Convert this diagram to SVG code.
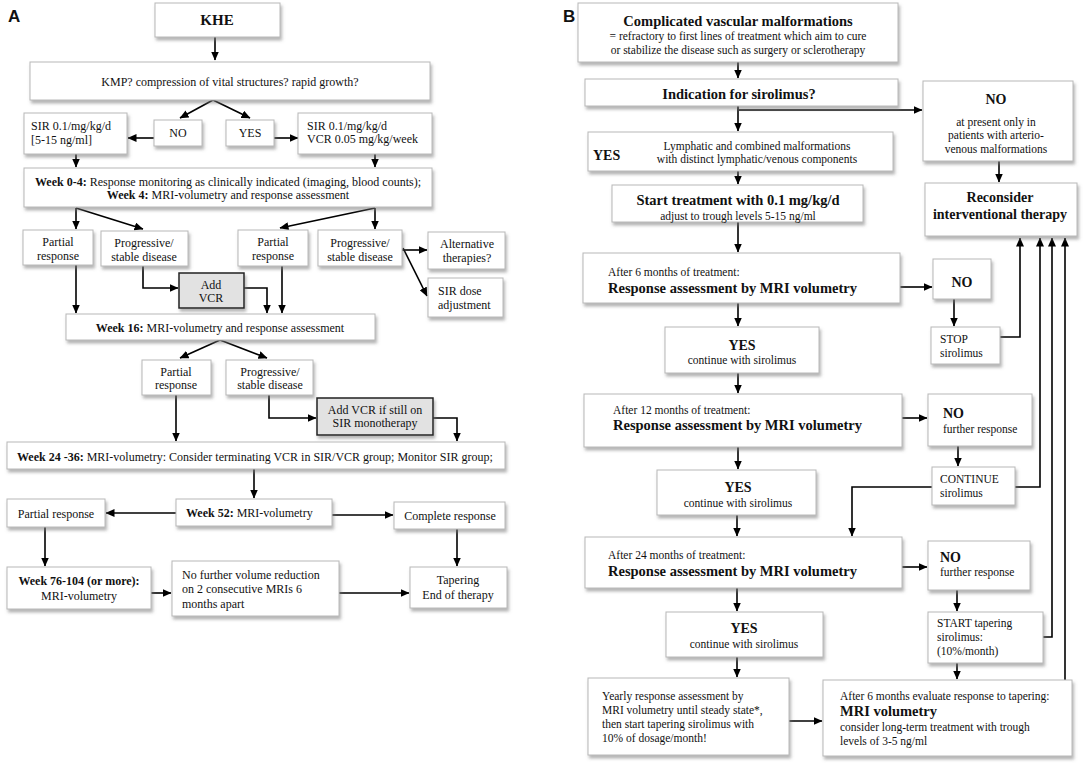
<svg xmlns="http://www.w3.org/2000/svg" width="1084" height="767" viewBox="0 0 1084 767">
<defs>
<filter id="sh" x="-10%" y="-10%" width="125%" height="140%">
<feDropShadow dx="1.5" dy="3" stdDeviation="1.5" flood-color="#777" flood-opacity="0.55"/>
</filter>
<marker id="ah" markerUnits="userSpaceOnUse" markerWidth="9" markerHeight="8" refX="8.5" refY="4" orient="auto">
<path d="M0,0 L9,4 L0,8 Z" fill="#000"/>
</marker>
</defs>
<style>
.b{fill:#fff;stroke:#b8b8b8;stroke-width:1;filter:url(#sh)}
.g{fill:#e2e2e2;stroke:#222;stroke-width:1.5;filter:url(#sh)}
text{font-family:"Liberation Serif","Times New Roman",serif;fill:#111}
.l{font-size:12px}
.r{font-size:11.5px}
.c{text-anchor:middle}
.bd{font-weight:bold}
.h{font-size:14.5px;font-weight:bold}
.pl{font-family:"Liberation Sans",Arial,sans-serif;font-size:17px;font-weight:bold}
.cn{fill:none;stroke:#000;stroke-width:1.6}
.a{marker-end:url(#ah)}
</style>
<rect width="1084" height="767" fill="#fff"/>
<text class="pl" x="8" y="22">A</text>
<text class="pl" x="563" y="22">B</text>

<g id="connectors">
<!-- Panel A -->
<path class="cn a" d="M215,37 V60"/>
<path class="cn a" d="M213,100 L180,118"/>
<path class="cn a" d="M213,100 L250,118"/>
<path class="cn a" d="M154,138 H128"/>
<path class="cn a" d="M274,138 H298"/>
<path class="cn a" d="M76,154 V167"/>
<path class="cn a" d="M375,154 V167"/>
<path class="cn a" d="M76,208 V229"/>
<path class="cn a" d="M76,208 L143,229"/>
<path class="cn a" d="M375,208 L280,228"/>
<path class="cn a" d="M375,208 V229"/>
<path class="cn a" d="M143,266 V288 H178"/>
<path class="cn a" d="M244,288 H267 V313"/>
<path class="cn a" d="M76,265 V313"/>
<path class="cn a" d="M282,266 V313"/>
<path class="cn a" d="M402,250 H427"/>
<path class="cn a" d="M403,248 L427,296"/>
<path class="cn a" d="M220,340 L180,358"/>
<path class="cn a" d="M220,340 L267,358"/>
<path class="cn a" d="M176,395 V441"/>
<path class="cn a" d="M269,395 V418 H316"/>
<path class="cn a" d="M433,418 H457 V441"/>
<path class="cn a" d="M254,469 V498"/>
<path class="cn a" d="M176,513 H106"/>
<path class="cn a" d="M332,515 H393"/>
<path class="cn a" d="M457,529 V566"/>
<path class="cn a" d="M45,527 V566"/>
<path class="cn a" d="M151,593 H171"/>
<path class="cn a" d="M339,593 H409"/>
<!-- Panel B -->
<path class="cn a" d="M738,62 V78"/>
<path class="cn a" d="M738,106 V131"/>
<path class="cn a" d="M739,110 H922"/>
<path class="cn a" d="M999,161 V182"/>
<path class="cn a" d="M738,171 V184"/>
<path class="cn a" d="M738,222 V252"/>
<path class="cn a" d="M900,287 H932"/>
<path class="cn a" d="M954,299 V326"/>
<path class="cn a" d="M1000,337 H1020 V238"/>
<path class="cn a" d="M738,303 V326"/>
<path class="cn a" d="M738,373 V393"/>
<path class="cn a" d="M902,418 H927"/>
<path class="cn a" d="M958,446 V466"/>
<path class="cn a" d="M1015,487 H1040 V238"/>
<path class="cn a" d="M932,487 H852 V536"/>
<path class="cn a" d="M738,447 V469"/>
<path class="cn a" d="M737,515 V536"/>
<path class="cn a" d="M902,567 H927"/>
<path class="cn a" d="M957,590 V611"/>
<path class="cn a" d="M1043,637 H1052 V238"/>
<path class="cn a" d="M1065,680 V238"/>
<path class="cn a" d="M737,588 V611"/>
<path class="cn a" d="M737,657 V677"/>
<path class="cn a" d="M789,721 H822"/>
<path class="cn a" d="M957,663 V679"/>
</g>

<!-- Panel A nodes -->
<g id="khe"><rect class="b" x="155" y="3" width="125" height="34"/><text class="c bd" x="217" y="25" font-size="15">KHE</text></g>
<g id="kmp"><rect class="b" x="30" y="62" width="400" height="38"/><text class="l c" x="230" y="86">KMP? compression of vital structures? rapid growth?</text></g>
<g id="noA"><rect class="b" x="154" y="120" width="48" height="26"/><text class="l c" x="178" y="137">NO</text></g>
<g id="yesA"><rect class="b" x="226" y="120" width="48" height="26"/><text class="l c" x="250" y="137">YES</text></g>
<g id="sirL"><rect class="b" x="24" y="113" width="103" height="41"/><text class="l" x="31" y="130">SIR 0.1/mg/kg/d</text><text class="l" x="31" y="144">[5-15 ng/ml]</text></g>
<g id="sirR"><rect class="b" x="298" y="113" width="134" height="41"/><text class="l" x="307" y="130">SIR 0.1/mg/kg/d</text><text class="l" x="307" y="143">VCR 0.05 mg/kg/week</text></g>
<g id="week04"><rect class="b" x="24" y="168" width="408" height="39"/>
<text class="l c" x="228" y="186"><tspan class="bd">Week 0-4:</tspan> Response monitoring as clinically indicated (imaging, blood counts);</text>
<text class="l c" x="228" y="199"><tspan class="bd">Week 4:</tspan> MRI-volumetry and response assessment</text></g>
<g id="pr1"><rect class="b" x="23" y="230" width="70" height="35"/><text class="l c" x="58" y="246">Partial</text><text class="l c" x="58" y="260">response</text></g>
<g id="pd1"><rect class="b" x="101" y="231" width="87" height="35"/><text class="l c" x="144" y="247">Progressive/</text><text class="l c" x="144" y="261">stable disease</text></g>
<g id="addvcr1"><rect class="g" x="179" y="273" width="65" height="35"/><text class="l c" x="211" y="289">Add</text><text class="l c" x="211" y="302">VCR</text></g>
<g id="pr2"><rect class="b" x="238" y="230" width="70" height="36"/><text class="l c" x="273" y="246">Partial</text><text class="l c" x="273" y="260">response</text></g>
<g id="pd2"><rect class="b" x="318" y="230" width="84" height="36"/><text class="l c" x="360" y="247">Progressive/</text><text class="l c" x="360" y="261">stable disease</text></g>
<g id="alt"><rect class="b" x="428" y="232" width="77" height="37"/><text class="l c" x="467" y="248">Alternative</text><text class="l c" x="467" y="262">therapies?</text></g>
<g id="sirdose"><rect class="b" x="428" y="278" width="75" height="39"/><text class="l" x="438" y="295">SIR dose</text><text class="l" x="438" y="309">adjustment</text></g>
<g id="week16"><rect class="b" x="66" y="314" width="309" height="26"/><text class="l c" x="220" y="332"><tspan class="bd">Week 16:</tspan> MRI-volumetry and response assessment</text></g>
<g id="pr3"><rect class="b" x="142" y="360" width="69" height="35"/><text class="l c" x="176" y="376">Partial</text><text class="l c" x="176" y="389">response</text></g>
<g id="pd3"><rect class="b" x="226" y="360" width="87" height="35"/><text class="l c" x="270" y="376">Progressive/</text><text class="l c" x="270" y="389">stable disease</text></g>
<g id="addvcr2"><rect class="g" x="317" y="398" width="116" height="37"/><text class="l c" x="375" y="414">Add VCR if still on</text><text class="l c" x="375" y="427">SIR monotherapy</text></g>
<g id="week24"><rect class="b" x="7" y="442" width="498" height="27"/><text class="l" x="17" y="461"><tspan class="bd">Week 24 -36:</tspan> MRI-volumetry: Consider terminating VCR in SIR/VCR group; Monitor SIR group;</text></g>
<g id="week52"><rect class="b" x="176" y="499" width="156" height="27"/><text class="l" x="186" y="517"><tspan class="bd">Week 52:</tspan> MRI-volumetry</text></g>
<g id="pr4"><rect class="b" x="7" y="499" width="98" height="28"/><text class="l c" x="56" y="518">Partial response</text></g>
<g id="cr"><rect class="b" x="394" y="502" width="111" height="27"/><text class="l c" x="450" y="520">Complete response</text></g>
<g id="week76"><rect class="b" x="7" y="567" width="144" height="42"/><text class="l c bd" x="79" y="585">Week 76-104 (or more):</text><text class="l c" x="79" y="600">MRI-volumetry</text></g>
<g id="nofurther"><rect class="b" x="172" y="561" width="167" height="55"/><text class="l" x="182" y="579">No further volume reduction</text><text class="l" x="182" y="593">on 2 consecutive MRIs 6</text><text class="l" x="182" y="608">months apart</text></g>
<g id="tapering"><rect class="b" x="410" y="567" width="97" height="41"/><text class="l c" x="458" y="584">Tapering</text><text class="l c" x="458" y="599">End of therapy</text></g>

<!-- Panel B nodes -->
<g id="cvm"><rect class="b" x="578" y="3" width="320" height="59"/><text class="h c" x="738" y="26">Complicated vascular malformations</text><text class="r c" x="738" y="40">= refractory to first lines of treatment which aim to cure</text><text class="r c" x="738" y="54">or stabilize the disease such as surgery or sclerotherapy</text></g>
<g id="indication"><rect class="b" x="585" y="79" width="313" height="27"/><text class="h c" x="739" y="99">Indication for sirolimus?</text></g>
<g id="noTop"><rect class="b" x="923" y="81" width="150" height="80"/><text class="c bd" x="996" y="104" font-size="14">NO</text><text class="r c" x="996" y="126">at present only in</text><text class="r c" x="996" y="139">patients with arterio-</text><text class="r c" x="996" y="153">venous malformations</text></g>
<g id="reconsider"><rect class="b" x="925" y="183" width="152" height="53"/><text class="c bd" x="1000" y="202" font-size="14">Reconsider</text><text class="c bd" x="1000" y="219" font-size="14">interventional therapy</text></g>
<g id="yesLymph"><rect class="b" x="588" y="132" width="305" height="39"/><text class="bd" x="593" y="160" font-size="14">YES</text><text class="r c" x="757" y="150">Lymphatic and combined malformations</text><text class="r c" x="757" y="163">with distinct lymphatic/venous components</text></g>
<g id="start"><rect class="b" x="612" y="185" width="251" height="37"/><text class="h c" x="738" y="205">Start treatment with 0.1 mg/kg/d</text><text class="r c" x="738" y="220">adjust to trough levels 5-15 ng/ml</text></g>
<g id="m6"><rect class="b" x="583" y="253" width="317" height="50"/><text class="r" x="608" y="276">After 6 months of treatment:</text><text class="h" x="608" y="293">Response assessment by MRI volumetry</text></g>
<g id="no6"><rect class="b" x="933" y="259" width="58" height="40"/><text class="c bd" x="962" y="287" font-size="14">NO</text></g>
<g id="stop"><rect class="b" x="931" y="327" width="69" height="37"/><text class="r" x="940" y="343">STOP</text><text class="r" x="940" y="357">sirolimus</text></g>
<g id="yes6"><rect class="b" x="665" y="327" width="154" height="46"/><text class="c bd" x="742" y="350" font-size="14">YES</text><text class="r c" x="742" y="364">continue with sirolimus</text></g>
<g id="m12"><rect class="b" x="584" y="394" width="318" height="53"/><text class="r" x="613" y="414">After 12 months of treatment:</text><text class="h" x="613" y="430">Response assessment by MRI volumetry</text></g>
<g id="no12"><rect class="b" x="928" y="394" width="104" height="52"/><text class="bd" x="943" y="418" font-size="14">NO</text><text class="r" x="943" y="433">further response</text></g>
<g id="continue"><rect class="b" x="932" y="467" width="83" height="38"/><text class="r" x="940" y="483">CONTINUE</text><text class="r" x="940" y="497">sirolimus</text></g>
<g id="yes12"><rect class="b" x="657" y="470" width="159" height="45"/><text class="c bd" x="738" y="492" font-size="14">YES</text><text class="r c" x="738" y="507">continue with sirolimus</text></g>
<g id="m24"><rect class="b" x="585" y="537" width="317" height="51"/><text class="r" x="608" y="559">After 24 months of treatment:</text><text class="h" x="608" y="576">Response assessment by MRI volumetry</text></g>
<g id="no24"><rect class="b" x="928" y="541" width="102" height="49"/><text class="bd" x="940" y="562" font-size="14">NO</text><text class="r" x="940" y="576">further response</text></g>
<g id="starttaper"><rect class="b" x="928" y="612" width="115" height="51"/><text class="r" x="937" y="627">START tapering</text><text class="r" x="937" y="641">sirolimus:</text><text class="r" x="937" y="655">(10%/month)</text></g>
<g id="yes24"><rect class="b" x="666" y="612" width="157" height="45"/><text class="c bd" x="744" y="633" font-size="14">YES</text><text class="r c" x="744" y="648">continue with sirolimus</text></g>
<g id="yearly"><rect class="b" x="588" y="678" width="201" height="77"/><text class="r" x="602" y="700">Yearly response assessment by</text><text class="r" x="602" y="714">MRI volumetry until steady state*,</text><text class="r" x="602" y="728">then start tapering sirolimus with</text><text class="r" x="602" y="742">10% of dosage/month!</text></g>
<g id="evaluate"><rect class="b" x="823" y="680" width="249" height="76"/><text class="r" x="840" y="700">After 6 months evaluate response to tapering:</text><text class="h" x="840" y="716">MRI volumetry</text><text class="r" x="840" y="731">consider long-term treatment with trough</text><text class="r" x="840" y="745">levels of 3-5 ng/ml</text></g>
</svg>
